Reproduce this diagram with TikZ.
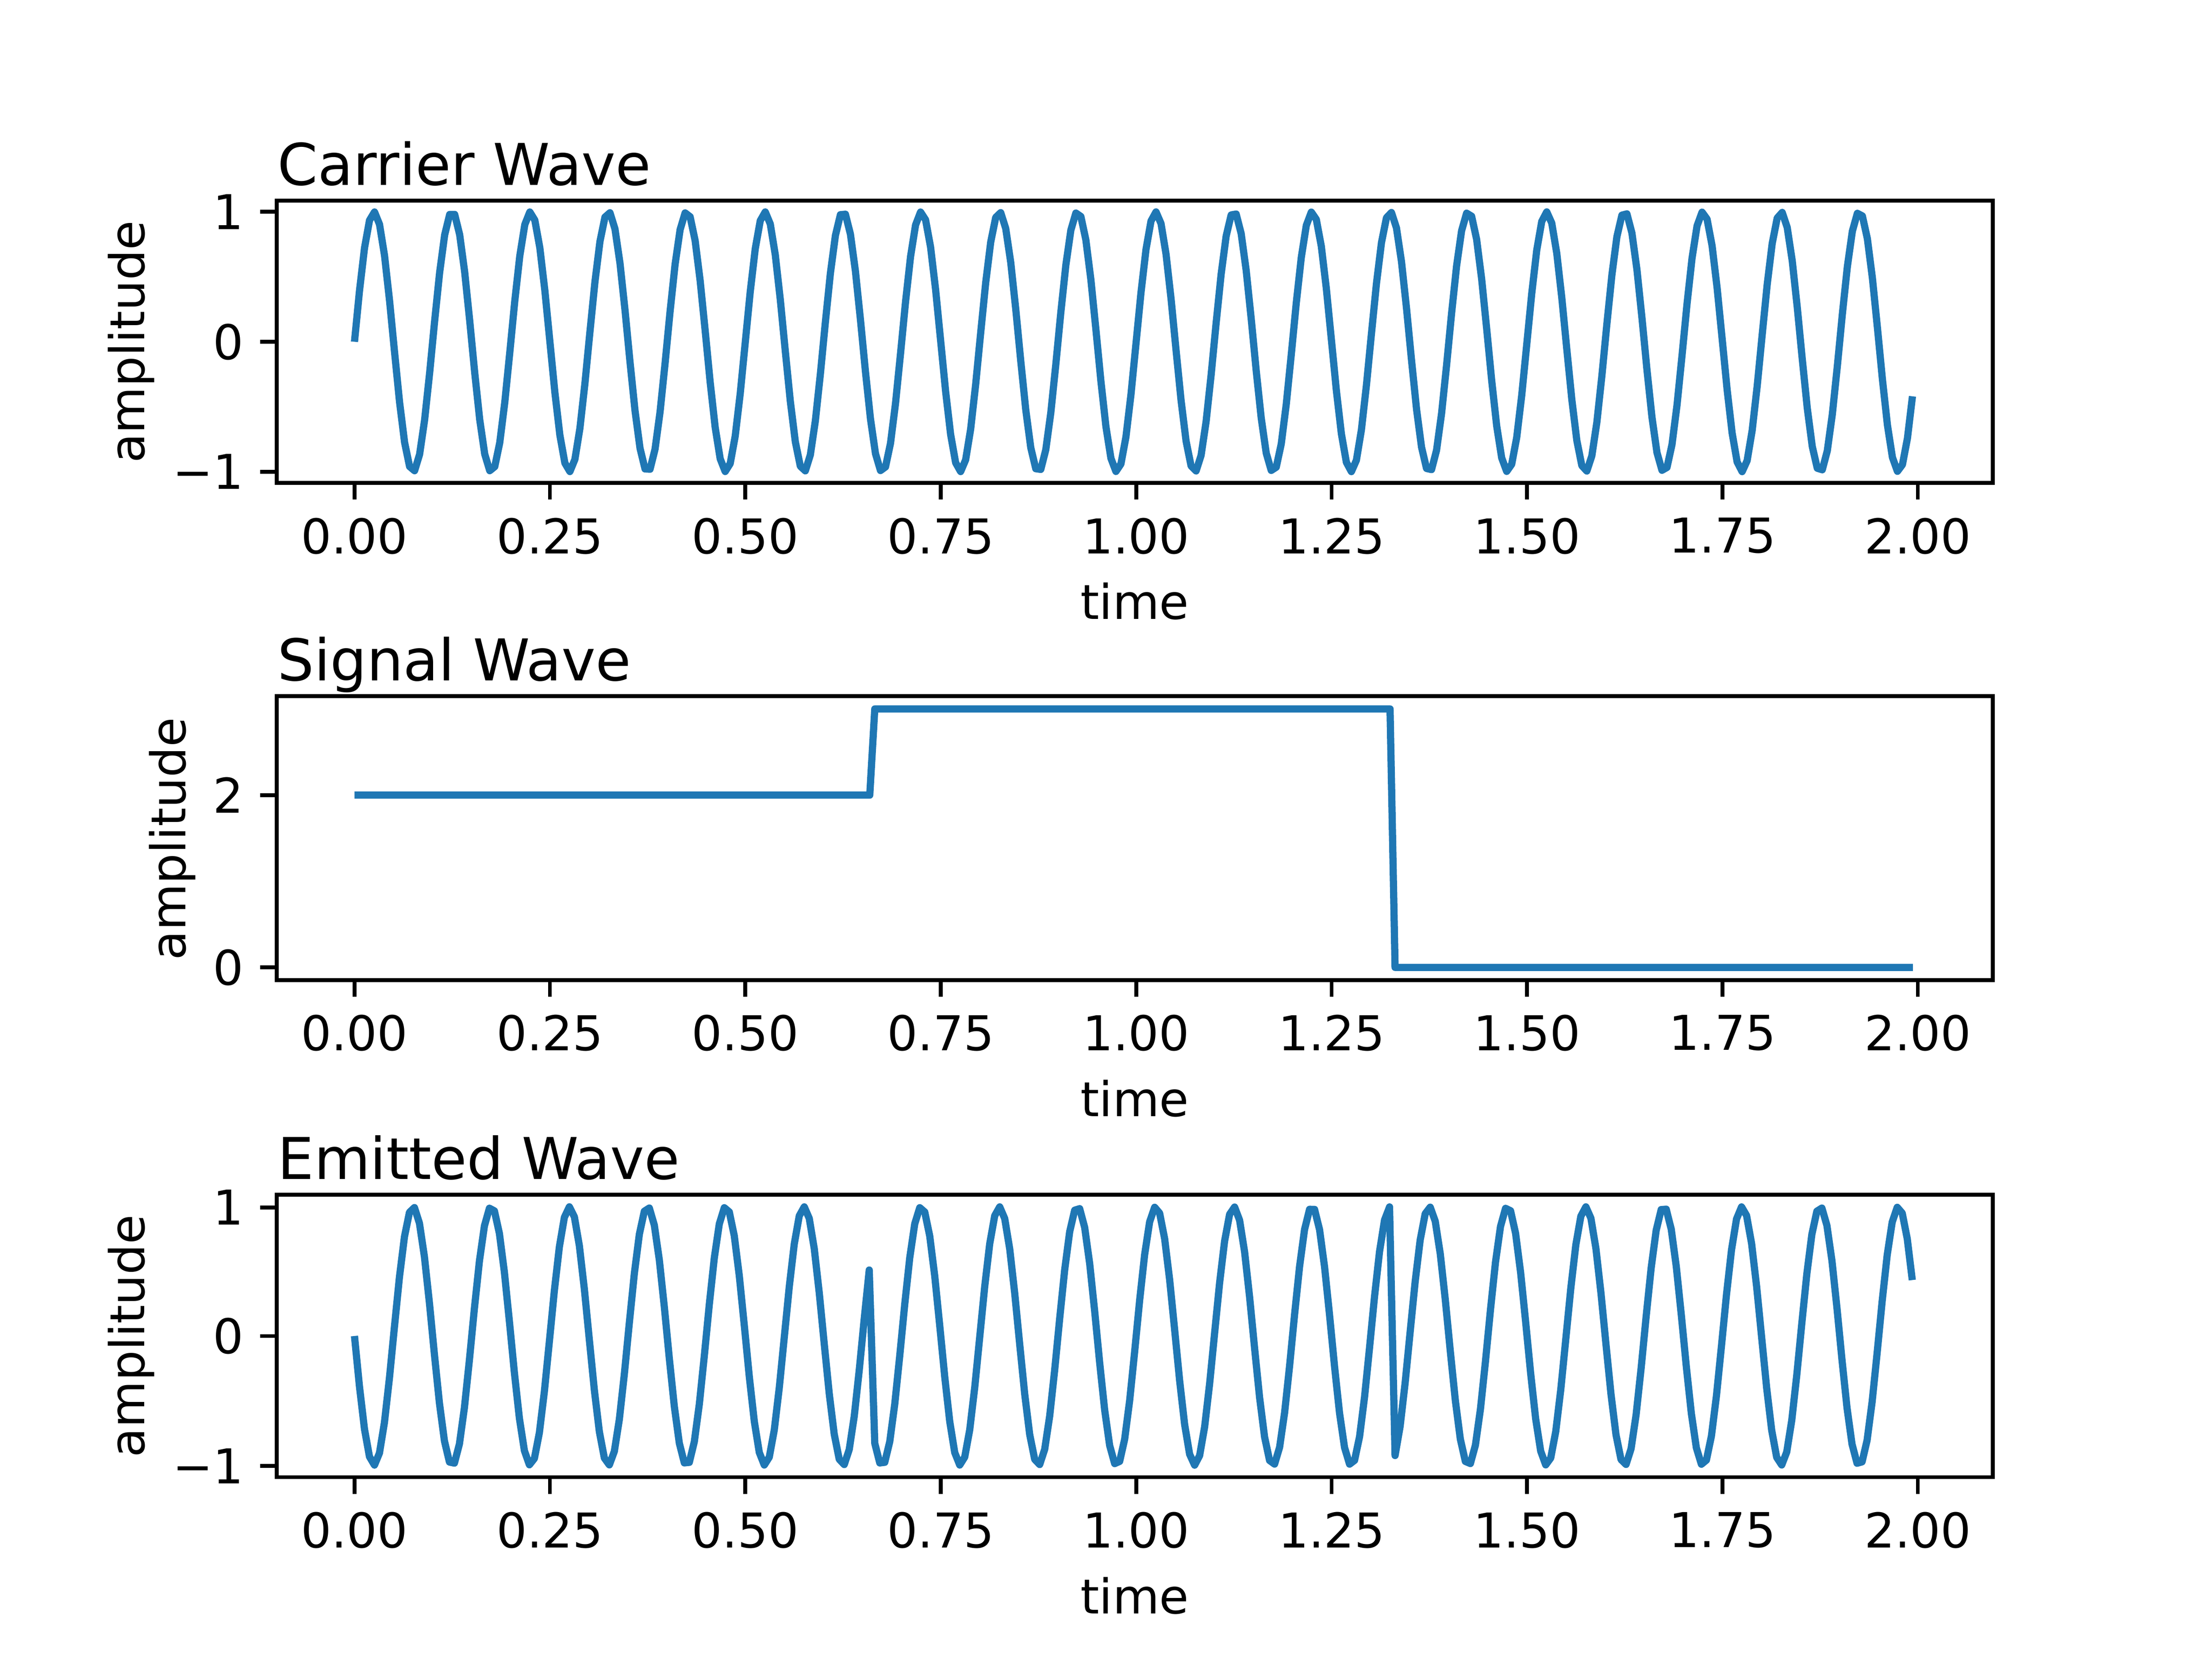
\documentclass[tikz,border=0pt]{standalone}
\usepackage{fontspec}
\setmainfont{DejaVu Sans}
\definecolor{cz}{HTML}{1F77B4}
\begin{document}
\begin{tikzpicture}[x=0.2942pt,y=-0.2942pt,
  frame/.style={line width=0.8pt},
  tk/.style={line width=0.8pt},
  wave/.style={cz,line width=1.5pt,line join=round},
  tl/.style={font=\fontsize{10}{12}\selectfont,inner sep=0pt},
  ttl/.style={font=\fontsize{12}{14}\selectfont,inner sep=0pt,anchor=base west}]
\useasboundingbox (0,0) rectangle (1566.3,1174.7);
% axes frames
\foreach \top/\bot/\n in {142/342/a,493/694/b,846/1046/c}{
  \draw[frame] (196,\top) rectangle (1411,\bot);
  \foreach \v/\l in {0/0.00,0.25/0.25,0.5/0.50,0.75/0.75,1/1.00,1.25/1.25,1.5/1.50,1.75/1.75,2/2.00}{
    \draw[tk] ({251+553.5*\v},\bot) -- ++(0,11.8);
    \node[tl,anchor=north] at ({251+553.5*\v},\bot+24) {\l};
  }
  \node[tl,anchor=north] at (803.5,\bot+70) {time};
}
% y ticks
\foreach \y/\l in {150/1,242/0,334/−1}{\draw[tk] (196,\y) -- ++(-11.8,0); \node[tl,anchor=east] at (173,\y) {\l};}
\foreach \y/\l in {563/2,685/0}{\draw[tk] (196,\y) -- ++(-11.8,0); \node[tl,anchor=east] at (173,\y) {\l};}
\foreach \y/\l in {855/1,946/0,1038/−1}{\draw[tk] (196,\y) -- ++(-11.8,0); \node[tl,anchor=east] at (173,\y) {\l};}
\node[tl,rotate=90] (ya) at (93,242) {amplitude};
\node[tl,rotate=90] (yb) at (122,594) {amplitude};
\node[tl,rotate=90] (yc) at (93,946) {amplitude};
% titles
\node[ttl] (ta) at (196,131) {Carrier Wave};
\node[ttl] (tb) at (196,482) {Signal Wave};
\node[ttl] (tc) at (196,835) {Emitted Wave};
% carrier
\draw[wave] plot[domain=0:1.9936,samples=312] ({251+553.5*\x},{242-92*sin(3600*\x)});
% signal
\draw[wave] ({251},563) -- ({251+553.5*0.6592},563) -- ({251+553.5*0.6656},502) -- ({251+553.5*1.3248},502) -- ({251+553.5*1.3312},685) -- ({251+553.5*1.9936},685);
% emitted
\draw[wave] plot[domain=0:0.6592,samples=104] ({251+553.5*\x},{946+91.5*sin(3600*\x)})
 -- plot[domain=0.6656:1.3248,samples=104] ({251+553.5*\x},{946-91.5*sin(3600*\x)})
 -- plot[domain=1.3312:1.9936,samples=104] ({251+553.5*\x},{946+91.5*sin(3600*\x)});
\end{tikzpicture}
\end{document}
